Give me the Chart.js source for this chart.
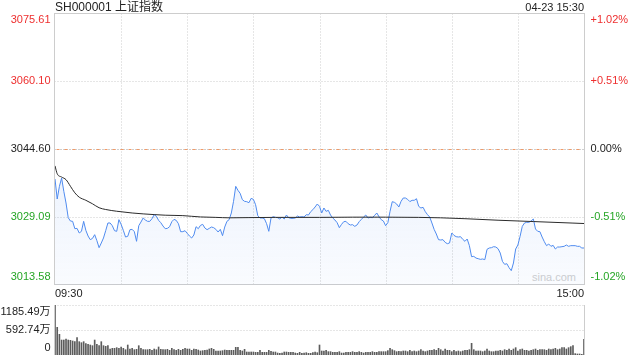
<!DOCTYPE html>
<html>
<head>
<meta charset="utf-8">
<script src="https://cdn.jsdelivr.net/npm/chart.js@4/dist/chart.umd.min.js"></script>
<style>
  html, body { margin: 0; padding: 0; background: #fff; }
  #wrap { position: relative; width: 640px; height: 360px; overflow: hidden;
    font-family: "Liberation Sans", "Noto Sans CJK SC", sans-serif; }
  #title { position: absolute; left: 55px; top: 0; font-size: 12px; line-height: 14px; color: #222; }
  #stamp { position: absolute; right: 56px; top: 0; font-size: 11px; line-height: 14px; color: #222; }
  #logo { position: absolute; left: 532px; top: 271px; font-size: 11px; line-height: 13px; color: #cfcfcf; }
  #main { position: absolute; left: 0; top: 0; }
  #vol { position: absolute; left: 0; top: 300px; }
</style>
</head>
<body>
<div id="wrap">
  <div id="logo">sina.com</div>
  <canvas id="main" width="640" height="300"></canvas>
  <canvas id="vol" width="640" height="60"></canvas>
  <div id="title">SH000001 上证指数</div>
  <div id="stamp">04-23 15:30</div>
</div>
<script>
// ---- data ----
const prevClose = 3044.60;
const priceTicks = [3075.61, 3060.10, 3044.60, 3029.09, 3013.58];
const pctTicks = ['+1.02%', '+0.51%', '0.00%', '-0.51%', '-1.02%'];
const volTicks = [1185.49, 592.74, 0];
const volTickLabels = ['1185.49万', '592.74万', '0'];
const timeLabels = ['09:30', '15:00'];

// one value per minute, 09:30 .. 11:30 then 13:01 .. 15:00 (241 points)
const priceData = [
  3037.75, 3033.19, 3036.08, 3037.98, 3034.94, 3032.28, 3028.93, 3028.17, 3028.10, 3026.42,
  3026.50, 3025.44, 3025.82, 3028.10, 3026.04, 3024.75, 3023.92, 3024.20, 3025.06, 3023.69,
  3022.09, 3023.16, 3024.30, 3025.97, 3027.72, 3027.72, 3027.10, 3025.97, 3025.82, 3028.48,
  3027.41, 3026.04, 3024.52, 3024.68, 3026.20, 3026.27, 3025.74, 3023.54, 3027.10, 3027.94,
  3028.86, 3028.40, 3028.10, 3028.10, 3028.70, 3029.62, 3029.24, 3028.32, 3027.79, 3027.03,
  3026.42, 3026.50, 3026.88, 3028.02, 3028.55, 3028.32, 3027.56, 3025.74, 3025.74, 3025.97,
  3025.36, 3024.75, 3024.30, 3024.98, 3026.88, 3026.42, 3027.18, 3027.41, 3026.58, 3026.20,
  3026.50, 3026.80, 3026.65, 3026.27, 3025.66, 3026.27, 3024.83, 3026.80, 3028.10, 3028.48,
  3030.00, 3032.66, 3036.08, 3035.17, 3034.48, 3033.04, 3032.66, 3032.58, 3032.35, 3033.34,
  3033.11, 3031.90, 3029.39, 3028.86, 3028.86, 3028.70, 3027.56, 3025.82, 3028.86, 3029.16,
  3029.01, 3028.93, 3028.63, 3029.08, 3028.63, 3029.54, 3028.93, 3028.78, 3028.78, 3028.86,
  3029.31, 3029.08, 3029.16, 3029.08, 3029.62, 3029.54, 3030.30, 3030.76, 3031.37, 3032.05,
  3031.52, 3030.00, 3031.14, 3030.38, 3030.61, 3029.54, 3028.86, 3028.40, 3027.79, 3026.65,
  3027.41, 3028.02, 3028.10, 3027.56, 3027.26, 3027.34, 3026.96, 3027.26, 3028.02, 3028.55,
  3029.08, 3029.54, 3028.86, 3029.01, 3028.93, 3029.46, 3030.00, 3029.16, 3028.48, 3028.17,
  3027.10, 3027.79, 3030.38, 3032.58, 3032.43, 3032.05, 3031.37, 3032.66, 3033.42, 3033.42,
  3033.10, 3032.60, 3032.89, 3032.90, 3033.26, 3031.52, 3031.14, 3031.29, 3030.30, 3029.62,
  3029.08, 3027.72, 3026.27, 3025.21, 3023.92, 3023.84, 3023.92, 3023.31, 3023.00, 3023.16,
  3025.44, 3024.90, 3024.60, 3024.52, 3024.60, 3023.99, 3023.54, 3024.07, 3022.55, 3020.04,
  3020.11, 3019.73, 3019.58, 3019.43, 3019.51, 3019.36, 3021.71, 3022.02, 3022.09, 3022.32,
  3022.24, 3021.86, 3020.87, 3018.97, 3018.29, 3018.44, 3017.53, 3016.85, 3018.60, 3021.79,
  3022.70, 3024.68, 3026.96, 3027.72, 3027.87, 3027.87, 3028.17, 3028.63, 3026.35, 3025.82,
  3025.74, 3024.52, 3023.46, 3022.55, 3022.93, 3022.40, 3022.62, 3021.79, 3022.24, 3022.24,
  3022.32, 3022.40, 3022.70, 3022.40, 3022.55, 3022.55, 3022.55, 3022.40, 3022.40, 3022.02,
  3022.02
];

// average price line, read at a few minutes only
const avgMinute = [0, 1, 3, 5, 7, 9, 11, 14, 17, 20, 23, 28, 35, 40, 50, 58, 66, 73, 79, 88,
  100, 120, 135, 150, 165, 175, 186, 201, 217, 235, 240];
const avgPrice = [3040.75, 3038.95, 3038.2, 3037.6, 3036.1, 3034.6, 3033.6, 3032.9, 3032.1, 3031.2,
  3030.8, 3030.4, 3030.0, 3029.8, 3029.5, 3029.4, 3029.1, 3029.0, 3028.9, 3028.95,
  3029.0, 3029.0, 3029.05, 3029.05, 3029.0, 3028.9, 3028.7, 3028.35, 3028.05, 3027.7, 3027.6];

// volume, 万
const volumeData = [
  1185, 656, 490, 355, 355, 380, 355, 348, 332, 316,
  411, 316, 292, 316, 269, 253, 237, 221, 355, 253,
  221, 316, 221, 205, 221, 142, 158, 158, 174, 158,
  190, 158, 126, 237, 142, 158, 126, 134, 221, 158,
  126, 126, 126, 134, 111, 142, 126, 190, 134, 126,
  126, 134, 111, 158, 126, 111, 134, 111, 134, 158,
  142, 142, 111, 142, 134, 118, 95, 103, 111, 118,
  142, 158, 134, 95, 95, 95, 103, 118, 111, 111,
  111, 111, 182, 182, 111, 95, 134, 71, 71, 71,
  71, 63, 63, 111, 63, 63, 63, 111, 87, 71,
  71, 47, 40, 47, 71, 71, 63, 63, 63, 47,
  40, 63, 40, 47, 55, 40, 40, 55, 71, 55,
  237, 95, 95, 111, 79, 79, 63, 63, 63, 79,
  47, 47, 63, 63, 63, 79, 63, 63, 79, 63,
  47, 63, 63, 63, 79, 63, 63, 79, 79, 79,
  79, 103, 158, 126, 103, 79, 87, 79, 95, 95,
  79, 111, 79, 95, 79, 95, 126, 95, 79, 95,
  111, 111, 126, 111, 158, 126, 95, 142, 111, 111,
  79, 111, 79, 95, 79, 95, 111, 111, 126, 277,
  126, 95, 95, 95, 79, 95, 142, 95, 79, 79,
  95, 95, 111, 95, 126, 111, 142, 111, 142, 174,
  95, 126, 142, 111, 111, 95, 111, 126, 142, 111,
  126, 126, 126, 111, 142, 126, 142, 158, 126, 142,
  174, 174, 142, 174, 198, 221, 32, 24, 24, 16,
  371
];

const RED = '#ee2f2f';
const GREEN = '#25a525';
const GRID = '#cdcdcd';
const FONT = '11px "Liberation Sans", "Noto Sans CJK SC", sans-serif';
const LAST_MIN = priceData.length - 1;

function line(ctx, x1, y1, x2, y2) {
  ctx.beginPath();
  ctx.moveTo(x1, y1);
  ctx.lineTo(x2, y2);
  ctx.stroke();
}

// ============ Main chart frame / labels ============
const mainFrame = {
  id: 'mainFrame',
  beforeDatasetsDraw(chart) {
    const { ctx, chartArea: a, scales: { x, y } } = chart;
    const L = Math.round(a.left) - 0.5, R = Math.round(a.right) + 0.5;
    const T = Math.round(a.top) + 0.5, B = Math.round(a.bottom) - 0.5;
    ctx.save();
    ctx.lineWidth = 1;
    ctx.strokeStyle = GRID;
    ctx.setLineDash([1, 2]);
    for (let m = 30; m < LAST_MIN; m += 30) {
      const px = Math.round(x.getPixelForValue(m)) + 0.5;
      line(ctx, px, T, px, B);
    }
    priceTicks.slice(1, -1).forEach(v => {
      const py = Math.round(y.getPixelForValue(v)) + 0.5;
      line(ctx, L, py, R, py);
    });
    // previous close: gray dots with orange dashes over them
    const pc = Math.round(y.getPixelForValue(prevClose)) + 0.5;
    ctx.strokeStyle = '#b8b8b8';
    line(ctx, L, pc, R, pc);
    ctx.strokeStyle = '#f09a68';
    ctx.setLineDash([3, 5]);
    line(ctx, L + 2, pc, R, pc);
    // frame
    ctx.setLineDash([]);
    ctx.strokeStyle = GRID;
    ctx.strokeRect(L, T, R - L, B - T);
    ctx.restore();
  },
  afterDraw(chart) {
    const { ctx, chartArea: a, scales: { x, y } } = chart;
    ctx.save();
    ctx.font = FONT;
    ctx.textBaseline = 'middle';
    priceTicks.forEach((v, k) => {
      let py = y.getPixelForValue(v);
      if (k === 0) py += 7;
      if (k === priceTicks.length - 1) py -= 8;
      ctx.fillStyle = v > prevClose ? RED : (v < prevClose ? GREEN : '#222');
      ctx.textAlign = 'right';
      ctx.fillText(v.toFixed(2), a.left - 4.5, py);
      ctx.textAlign = 'left';
      ctx.fillText(pctTicks[k], a.right + 6.5, py);
    });
    ctx.fillStyle = '#222';
    ctx.textAlign = 'left';
    ctx.fillText(timeLabels[0], x.getPixelForValue(0), a.bottom + 9);
    ctx.textAlign = 'right';
    ctx.fillText(timeLabels[1], x.getPixelForValue(LAST_MIN), a.bottom + 9);
    ctx.restore();
  }
};

new Chart(document.getElementById('main'), {
  type: 'line',
  data: {
    datasets: [
      {
        data: avgMinute.map((m, k) => ({ x: m, y: avgPrice[k] })),
        borderColor: '#2b2b2b',
        borderWidth: 1,
        pointRadius: 0,
        fill: false,
        cubicInterpolationMode: 'monotone',
        order: 0,
      },
      {
        data: priceData.map((v, i) => ({ x: i, y: v })),
        borderColor: '#4f8bef',
        borderWidth: 1,
        pointRadius: 0,
        tension: 0,
        fill: 'start',
        backgroundColor(c) {
          const a = c.chart.chartArea;
          if (!a) return 'rgba(79,139,239,0.06)';
          const g = c.chart.ctx.createLinearGradient(0, a.top, 0, a.bottom);
          g.addColorStop(0, 'rgba(79,139,239,0.2)');
          g.addColorStop(1, 'rgba(79,139,239,0.03)');
          return g;
        },
        order: 1,
      },
    ],
  },
  options: {
    responsive: false,
    animation: false,
    events: [],
    layout: { padding: { left: 55, right: 56, top: 13, bottom: 15 } },
    plugins: { legend: { display: false }, tooltip: { enabled: false } },
    scales: {
      x: { type: 'linear', min: 0, max: LAST_MIN, display: false },
      y: { type: 'linear', min: priceTicks[priceTicks.length - 1], max: priceTicks[0], display: false },
    },
  },
  plugins: [mainFrame],
});

// ============ Volume chart ============
const volFrame = {
  id: 'volFrame',
  beforeDatasetsDraw(chart) {
    const { ctx, chartArea: a, scales: { y } } = chart;
    const L = Math.round(a.left) - 0.5, R = Math.round(a.right) + 0.5;
    ctx.save();
    ctx.lineWidth = 1;
    ctx.strokeStyle = GRID;
    ctx.setLineDash([1, 2]);
    volTicks.slice(0, 2).forEach(v => {
      const py = Math.round(y.getPixelForValue(v)) + 0.5;
      line(ctx, L, py, R, py);
    });
    ctx.setLineDash([]);
    line(ctx, L, a.top, L, a.bottom);
    line(ctx, R, a.top, R, a.bottom);
    ctx.restore();
  },
  afterDraw(chart) {
    const { ctx, chartArea: a, scales: { y } } = chart;
    ctx.save();
    ctx.font = FONT;
    ctx.textBaseline = 'middle';
    ctx.textAlign = 'right';
    ctx.fillStyle = '#222';
    volTicks.forEach((v, k) => {
      let py = y.getPixelForValue(v);
      if (k === 0) py += 7;
      if (k === volTicks.length - 1) py -= 7;
      ctx.fillText(volTickLabels[k], a.left - 4.5, py);
    });
    ctx.restore();
  }
};

new Chart(document.getElementById('vol'), {
  type: 'bar',
  data: {
    datasets: [{
      data: volumeData.map((v, i) => ({ x: i, y: v })),
      backgroundColor: '#5c5c5c',
      barThickness: 1,
      borderWidth: 0,
    }],
  },
  options: {
    responsive: false,
    animation: false,
    events: [],
    layout: { padding: { left: 55, right: 56, top: 5, bottom: 5 } },
    plugins: { legend: { display: false }, tooltip: { enabled: false } },
    scales: {
      x: { type: 'linear', min: 0, max: LAST_MIN, offset: false, display: false },
      y: { min: 0, max: volTicks[0], display: false },
    },
  },
  plugins: [volFrame],
});
</script>
</body>
</html>
